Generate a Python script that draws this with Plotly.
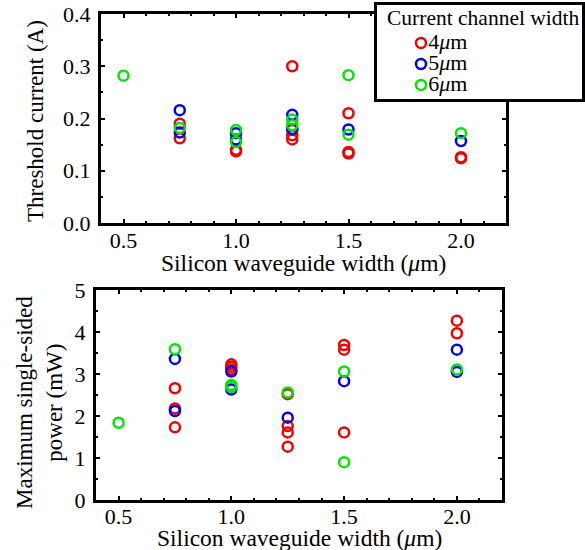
import plotly.graph_objects as go

# Top panel: threshold current (A)
top_x_4 = [0.75, 0.75, 1.0, 1.0, 1.25, 1.25, 1.25, 1.25, 1.5, 1.5, 1.5, 2.0, 2.0]
top_y_4 = [0.190, 0.162, 0.137, 0.140, 0.300, 0.178, 0.168, 0.160, 0.210, 0.136, 0.133, 0.126, 0.124]
top_x_5 = [0.75, 0.75, 1.0, 1.0, 1.25, 1.25, 1.5, 2.0]
top_y_5 = [0.216, 0.173, 0.172, 0.160, 0.207, 0.180, 0.179, 0.157]
top_x_6 = [0.5, 0.75, 1.0, 1.0, 1.25, 1.25, 1.5, 1.5, 2.0]
top_y_6 = [0.282, 0.182, 0.178, 0.155, 0.198, 0.187, 0.283, 0.169, 0.172]

# Bottom panel: maximum single-sided power (mW)
bot_x_4 = [0.75, 0.75, 0.75, 1.0, 1.0, 1.0, 1.25, 1.25, 1.25, 1.25, 1.5, 1.5, 1.5, 2.0, 2.0]
bot_y_4 = [2.66, 2.18, 1.73, 3.23, 3.17, 3.11, 2.52, 1.76, 1.61, 1.27, 3.69, 3.58, 1.61, 4.27, 3.97]
bot_x_5 = [0.75, 0.75, 1.0, 1.0, 1.25, 1.5, 2.0, 2.0]
bot_y_5 = [3.36, 2.12, 3.06, 2.63, 1.96, 2.83, 3.58, 3.05]
bot_x_6 = [0.5, 0.75, 1.0, 1.0, 1.25, 1.5, 1.5, 2.0]
bot_y_6 = [1.84, 3.59, 2.74, 2.69, 2.56, 3.06, 0.90, 3.11]

series_names = ["4<i>μ</i>m", "5<i>μ</i>m", "6<i>μ</i>m"]
series_colors = ["#f00000", "#0000f0", "#00e600"]
legend_title = "Current channel width"
x_tick_vals = [0.5, 1.0, 1.5, 2.0]
x_title = "Silicon waveguide width (<i>μ</i>m)"
top_y_title = "Threshold current (A)"
bot_y_title = "Maximum single-sided<br>power (mW)"

FONT = '"Liberation Serif", "Times New Roman", Times, serif'
W, H = 585, 550

fig = go.Figure()

marker_style = lambda col: dict(symbol="circle-open", size=10, color=col,
                                line=dict(width=2.5, color=col))

top_sets = [(top_x_4, top_y_4), (top_x_5, top_y_5), (top_x_6, top_y_6)]
bot_sets = [(bot_x_4, bot_y_4), (bot_x_5, bot_y_5), (bot_x_6, bot_y_6)]

for (xs, ys), name, col in zip(top_sets, series_names, series_colors):
    fig.add_trace(go.Scatter(x=xs, y=ys, mode="markers", name=name, showlegend=False,
                             marker=marker_style(col), xaxis="x", yaxis="y"))
for (xs, ys), name, col in zip(bot_sets, series_names, series_colors):
    fig.add_trace(go.Scatter(x=xs, y=ys, mode="markers", name=name, showlegend=False,
                             marker=marker_style(col), xaxis="x2", yaxis="y2"))

# Legend panel (a small subplot in pixel-like coordinates)
LX0, LX1, LY0, LY1 = 377, 582, 5, 99
fig.add_trace(go.Scatter(x=[LX0, LX1, LX1, LX0, LX0], y=[LY0, LY0, LY1, LY1, LY0],
                         mode="lines", fill="toself", fillcolor="white",
                         line=dict(width=0, color="white"), hoverinfo="skip",
                         showlegend=False, xaxis="x3", yaxis="y3"))
row_y = [43 + 21 * i for i in range(len(series_names))]
fig.add_trace(go.Scatter(x=[421] * len(series_names), y=row_y, mode="markers+text",
                         text=series_names, textposition="middle right",
                         textfont=dict(family=FONT, size=22, color="black"),
                         marker=dict(symbol="circle-open", size=10, color=series_colors,
                                     line=dict(width=2.5, color=series_colors)),
                         hoverinfo="skip", showlegend=False, xaxis="x3", yaxis="y3"))

axis_common = dict(showline=True, linecolor="black", linewidth=3, mirror="allticks",
                   ticks="inside", ticklen=4, tickwidth=1.5, tickcolor="black",
                   showgrid=False, zeroline=False, automargin=False,
                   tickfont=dict(family=FONT, size=22, color="black"))

title_font = dict(family=FONT, size=23, color="black")
legend_axis = dict(showline=True, mirror=True, linecolor="black", linewidth=3,
                   showgrid=False, zeroline=False, showticklabels=False, ticks="",
                   automargin=False)

fig.update_layout(
    width=W, height=H,
    margin=dict(l=0, r=0, t=0, b=0, autoexpand=False),
    paper_bgcolor="white", plot_bgcolor="white",
    font=dict(family=FONT, size=22, color="black"),
    showlegend=False,
    xaxis=dict(domain=[101/W, 506/W], anchor="y", range=[0.4, 2.2],
               tickvals=x_tick_vals, tickformat=".1f", ticklabelstandoff=-4,
               minor=dict(dtick=0.1, ticks="inside", ticklen=2, tickcolor="black"),
               **axis_common),
    yaxis=dict(domain=[1-223/H, 1-14/H], anchor="x", range=[0, 0.4], dtick=0.1,
               tickformat=".1f", ticklabelstandoff=3,
               minor=dict(dtick=0.05, ticks="inside", ticklen=2, tickcolor="black"),
               **axis_common),
    xaxis2=dict(domain=[96/W, 502/W], anchor="y2", range=[0.4, 2.2],
                tickvals=x_tick_vals, tickformat=".1f", ticklabelstandoff=-5,
                minor=dict(dtick=0.1, ticks="inside", ticklen=2, tickcolor="black"),
                **axis_common),
    yaxis2=dict(domain=[1-500/H, 1-290/H], anchor="x2", range=[0, 5], dtick=1,
                ticklabelstandoff=3,
                minor=dict(dtick=0.5, ticks="inside", ticklen=2, tickcolor="black"),
                **axis_common),
    xaxis3=dict(domain=[LX0/W, LX1/W], anchor="y3", range=[LX0, LX1], **legend_axis),
    yaxis3=dict(domain=[1-LY1/H, 1-LY0/H], anchor="x3", range=[LY1, LY0], **legend_axis),
    annotations=[
        dict(text=legend_title, xref="x3", yref="y3", x=385, y=18, xanchor="left",
             yanchor="middle", showarrow=False, font=dict(family=FONT, size=21.5, color="black")),
        dict(text=x_title, xref="x domain", yref="paper", x=0.5, y=1-263/H,
             xanchor="center", yanchor="middle", showarrow=False, font=dict(family=FONT, size=23.5, color="black")),
        dict(text=x_title, xref="x2 domain", yref="paper", x=0.5, y=1-538/H,
             xanchor="center", yanchor="middle", showarrow=False, font=dict(family=FONT, size=23.5, color="black")),
        dict(text=top_y_title, xref="paper", yref="paper", x=36/W, y=1-121/H, textangle=-90,
             xanchor="center", yanchor="middle", showarrow=False, font=title_font),
        dict(text=bot_y_title, xref="paper", yref="paper", x=39/W, y=1-403/H, textangle=-90,
             xanchor="center", yanchor="middle", showarrow=False, font=title_font),
    ],
)

fig.write_html("out.html")
